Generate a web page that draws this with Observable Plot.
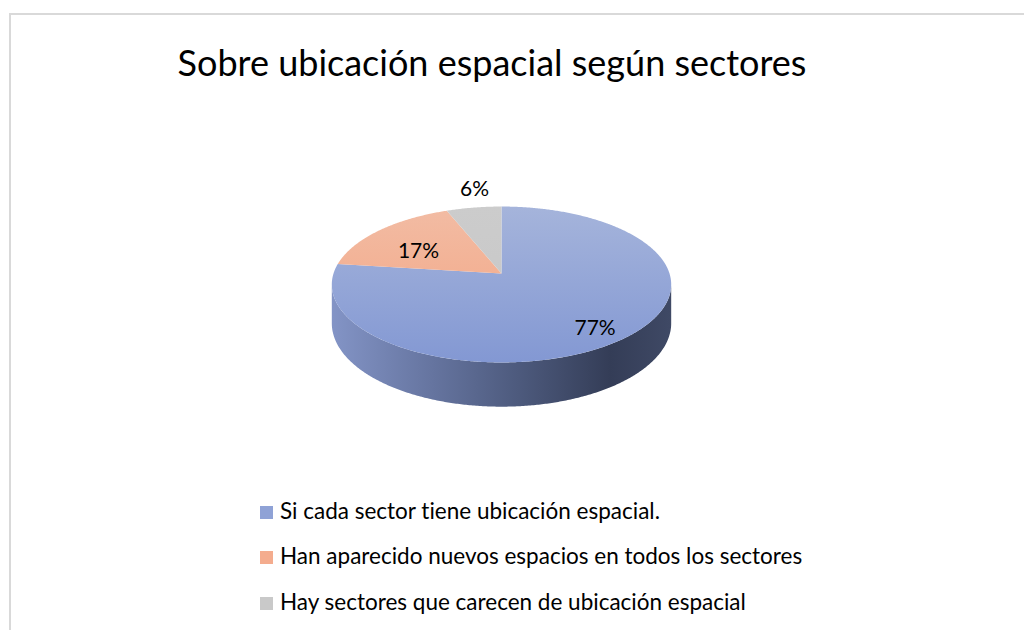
<!DOCTYPE html>
<html>
<head>
<meta charset="utf-8">
<script src="https://cdn.jsdelivr.net/npm/d3@7"></script>
<script src="https://cdn.jsdelivr.net/npm/@observablehq/plot@0.6"></script>
<style>
  html, body { margin: 0; padding: 0; background: #fff; width: 1024px; height: 630px; overflow: hidden; }
  body { font-family: Lato, "Open Sans", sans-serif; color: #000; position: relative; font-variant-ligatures: none; }
  #frame { position: absolute; left: 9px; top: 13px; width: 1100px; height: 700px; border: 2px solid #d9d9d9; box-sizing: border-box; }
  #title { position: absolute; left: 0; width: 984px; top: 44px; text-align: center; font-size: 36px; line-height: 36px; white-space: nowrap; }
  #chart { position: absolute; left: 0; top: 110px; }
  #legend { position: absolute; left: 260px; top: 488px; }
  .row { height: 45.3px; line-height: 45.3px; font-size: 22.5px; white-space: nowrap; }
  .sw { display: inline-block; width: 13px; height: 13px; margin-right: 7px; vertical-align: baseline; }
  svg text { font-variant-ligatures: none; }
</style>
</head>
<body>
<div id="frame"></div>
<div id="title">Sobre ubicación espacial según sectores</div>
<div id="chart"></div>
<div id="legend"></div>
<script>
// ---- data ----
const categories = [
  "Si cada sector tiene ubicación espacial.",
  "Han aparecido nuevos espacios en todos los sectores",
  "Hay sectores que carecen de ubicación espacial"
];
const values = [77, 17, 6];
const valueLabels = ["77%", "17%", "6%"];

// ---- styling ----
const topColors = [["#a5b4db", "#8398d3"], ["#f2bca4", "#f4a380"], ["#cccccc", "#c6c6c6"]];
const swatchColors = ["#8fa2d6", "#f4ac8e", "#c9c9c9"];
const sideStops = [
  [0, "#8394c6"], [0.3, "#65749f"], [0.55, "#4d5a7d"], [0.82, "#343d57"], [1, "#3f4965"]
];

// ---- geometry (3D perspective pie, unit radius) ----
const W = 1024, H = 360, TOP = 110;
const CX = 501, CY = 273, R = 168;     // pixel placement of the pie's centre and radius
const K = 0.141;                        // perspective strength
const TILT = 76.4 / R;                  // vertical squash of the disc
const DEPTH = 38 / R;                   // thickness of the pie

function project(theta, r = 1, drop = 0) {
  const s = -Math.cos(theta) * r;
  const g = 1 / (1 - K * s);
  return { x: Math.sin(theta) * r * g, y: TILT * s * g + drop * g };
}
function arcPoints(a0, a1, r = 1, drop = 0) {
  const n = Math.max(2, Math.ceil(Math.abs(a1 - a0) / (Math.PI / 360)));
  return d3.range(n + 1).map(i => project(a0 + (a1 - a0) * i / n, r, drop));
}

const arcs = d3.pie().sort(null).value(d => d)(values);
const visA = Math.acos(-K), visB = 2 * Math.PI - Math.acos(-K);

const marks = [];
arcs.forEach((a, i) => {
  const a0 = Math.max(a.startAngle, visA), a1 = Math.min(a.endAngle, visB);
  if (a1 <= a0) return;
  const pts = [...arcPoints(a0, a1, 1, 0), ...arcPoints(a1, a0, 1, DEPTH)];
  pts.push(pts[0]);
  marks.push(Plot.line(pts, { x: "x", y: "y", fill: `url(#side-${i})`, stroke: "none", curve: "linear" }));
});
arcs.forEach((a, i) => {
  const pts = [{ x: 0, y: 0 }, ...arcPoints(a.startAngle, a.endAngle), { x: 0, y: 0 }];
  marks.push(Plot.line(pts, { x: "x", y: "y", fill: `url(#top-${i})`, stroke: "none", curve: "linear" }));
});

const total = d3.sum(values);
const labelData = arcs.map((a, i) => {
  const mid = (a.startAngle + a.endAngle) / 2;
  const outside = values[i] / total < 0.1;
  const p = project(mid, outside ? 1.4 : 0.72);
  return { ...p, text: valueLabels[i], outside };
});
const textStyle = { x: "x", y: "y", text: "text", fontSize: 21, fill: "#000",
  fontFamily: "Lato, 'Open Sans', sans-serif", lineAnchor: "middle" };
marks.push(Plot.text(labelData.filter(d => !d.outside), { ...textStyle, dx: 7, dy: 10 }));
marks.push(Plot.text(labelData.filter(d => d.outside), { ...textStyle, dx: 10, dy: 4 }));

const xDomain = [(0 - CX) / R, (W - CX) / R];
const yDomain = [(TOP - CY) / R, (TOP + H - CY) / R];

const chart = Plot.plot({
  width: W, height: H, margin: 0,
  x: { domain: xDomain, range: [0, W], axis: null },
  y: { domain: yDomain, range: [0, H], axis: null },
  style: { background: "transparent", overflow: "visible" },
  marks
});

const defs = d3.select(chart).insert("defs", ":first-child");
const yPix = v => (v - yDomain[0]) / (yDomain[1] - yDomain[0]) * H;
const topY = yPix(project(0).y), botY = yPix(project(Math.PI).y);
topColors.forEach((c, i) => {
  const g = defs.append("linearGradient").attr("id", `top-${i}`)
    .attr("gradientUnits", "userSpaceOnUse").attr("x1", 0).attr("x2", 0).attr("y1", topY).attr("y2", botY);
  g.append("stop").attr("offset", 0).attr("stop-color", c[0]);
  g.append("stop").attr("offset", 1).attr("stop-color", c[1]);
  const s = defs.append("linearGradient").attr("id", `side-${i}`)
    .attr("x1", 0).attr("x2", 1).attr("y1", 0).attr("y2", 0);
  sideStops.forEach(([o, col]) => {
    const base = i === 0 ? col : d3.color(c[1]).darker(o * 1.5).formatHex();
    s.append("stop").attr("offset", o).attr("stop-color", base);
  });
});

document.getElementById("chart").appendChild(chart);

const legend = d3.select("#legend");
categories.forEach((c, i) => {
  const row = legend.append("div").attr("class", "row");
  row.append("span").attr("class", "sw").style("background", swatchColors[i]);
  row.append("span").text(c);
});
</script>
</body>
</html>
